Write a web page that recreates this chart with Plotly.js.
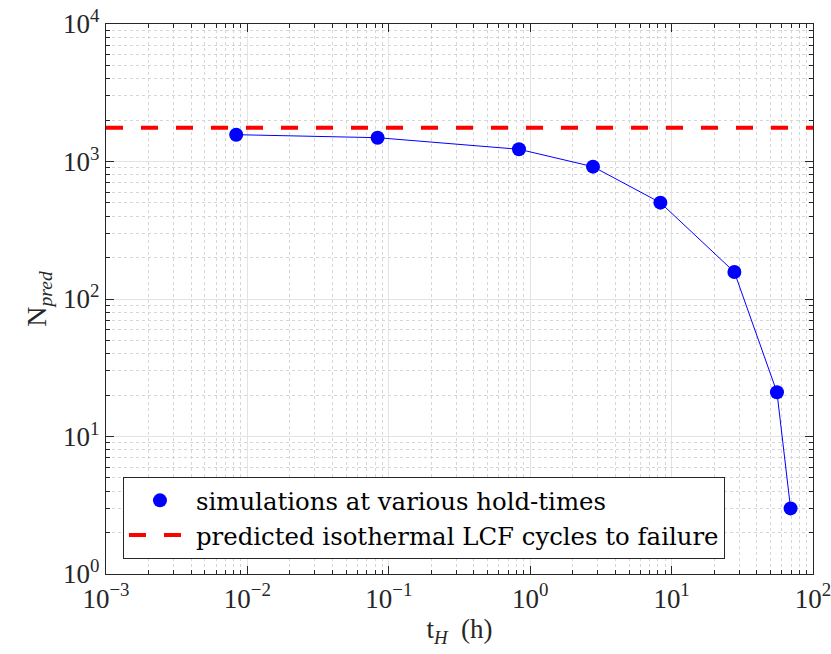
<!DOCTYPE html>
<html>
<head>
<meta charset="utf-8">
<script src="https://cdn.plot.ly/plotly-3.0.1.min.js"></script>
<style>html,body{margin:0;padding:0;background:#fff;}#chart{width:831px;height:654px;}</style>
</head>
<body>
<div id="chart"></div>
<script>
// hold times (h)
const holdTimes = [0.00833, 0.0833, 0.833, 2.78, 8.33, 27.8, 55.6, 69.4];
// predicted cycles to failure
const nPred = [1567, 1490, 1227, 917, 502, 157, 21, 3];
// isothermal LCF prediction (horizontal reference)
const lcfX = [0.001, 100];
const lcfY = [1760, 1760];
const simName = 'simulations at various hold-times';
const lcfName = 'predicted isothermal LCF cycles to failure';
// tick labels
const xTickVals = [0.001, 0.01, 0.1, 1, 10, 100];
const xTickText = ['10<sup>−3</sup>', '10<sup>−2</sup>', '10<sup>−1</sup>', '10<sup>0</sup>', '10<sup>1</sup>', '10<sup>2</sup>'];
const yTickVals = [1, 10, 100, 1000, 10000];
const yTickText = ['10<sup>0</sup>', '10<sup>1</sup>', '10<sup>2</sup>', '10<sup>3</sup>', '10<sup>4</sup>'];

const FONT = "'Liberation Serif', 'DejaVu Serif', serif";
const LEGFONT = "'DejaVu Serif', 'Liberation Serif', serif";

const traces = [
  {x: holdTimes, y: nPred, mode: 'lines', line: {color: '#0000ff', width: 1}, showlegend: false, hoverinfo: 'skip'},
  {x: holdTimes, y: nPred, mode: 'markers', name: simName, marker: {color: '#0000ff', size: 14}},
  {x: lcfX, y: lcfY, mode: 'lines', name: lcfName, line: {color: '#ff0000', width: 4, dash: '17px,18px'}}
];

const axisCommon = {
  type: 'log',
  showline: true, linecolor: '#262626', linewidth: 1.2, mirror: 'ticks',
  ticks: 'inside', ticklen: 8, tickcolor: '#262626', tickwidth: 1,
  showgrid: true, gridcolor: '#e3e3e3', gridwidth: 1,
  tickmode: 'array',
  ticklabeloverflow: 'allow',
  tickfont: {family: FONT, size: 27, color: '#262626'},
  zeroline: false,
  minor: {dtick: 'D1', ticks: 'inside', ticklen: 4, tickcolor: '#262626', showgrid: true, gridcolor: '#d6d6d6', griddash: 'dot', gridwidth: 1}
};

const layout = {
  width: 831, height: 654,
  margin: {l: 106, r: 18, t: 24, b: 80},
  paper_bgcolor: '#fff', plot_bgcolor: '#fff',
  font: {family: FONT, color: '#262626'},
  xaxis: Object.assign({}, axisCommon, {
    range: [-3, 2], tickvals: xTickVals, ticktext: xTickText,
    title: {text: 't<sub><i>H</i></sub>  (h)', font: {family: FONT, size: 27, color: '#262626'}, standoff: 6}
  }),
  yaxis: Object.assign({}, axisCommon, {
    range: [0, 4], tickvals: yTickVals, ticktext: yTickText,
    title: {text: 'N<sub><i>pred</i></sub>', font: {family: FONT, size: 28, color: '#262626'}, standoff: 8}
  }),
  showlegend: true,
  legend: {
    x: 0.024, y: 0.1764, xanchor: 'left', yanchor: 'top',
    bgcolor: '#fff', bordercolor: '#262626', borderwidth: 1,
    font: {family: LEGFONT, size: 24.4, color: '#000'},
    itemwidth: 62,
    tracegroupgap: 0
  }
};

Plotly.newPlot('chart', traces, layout, {staticPlot: true, displayModeBar: false});
</script>
</body>
</html>
